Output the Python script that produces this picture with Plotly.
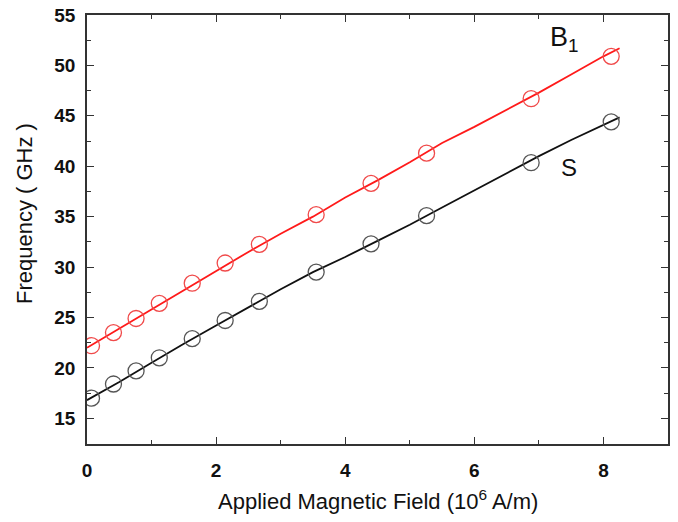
import plotly.graph_objects as go

# Measured points (open circles)
field_pts = [0.07, 0.41, 0.76, 1.12, 1.63, 2.14, 2.67, 3.55, 4.40, 5.26, 6.88, 8.12]
b1_pts = [22.2, 23.5, 24.9, 26.4, 28.4, 30.4, 32.25, 35.2, 38.3, 41.3, 46.7, 50.9]
s_pts = [17.0, 18.4, 19.7, 21.0, 22.9, 24.7, 26.6, 29.5, 32.3, 35.1, 40.35, 44.4]

# Calculated curves (solid lines)
field_line = [0, 0.5, 1, 1.5, 2, 2.5, 3, 3.5, 4, 4.5, 5, 5.5, 6, 6.5, 7, 7.5, 8, 8.25]
b1_line = [22.0, 23.9, 25.8, 27.7, 29.6, 31.5, 33.3, 35.0, 36.9, 38.6, 40.4, 42.3, 43.9, 45.6, 47.3, 49.1, 50.9, 51.7]
s_line = [16.8, 18.6, 20.5, 22.4, 24.2, 26.0, 27.8, 29.5, 31.0, 32.6, 34.2, 35.9, 37.6, 39.3, 41.0, 42.6, 44.1, 44.85]

x_ticks = [0, 2, 4, 6, 8]
y_ticks = [15, 20, 25, 30, 35, 40, 45, 50, 55]

fig = go.Figure()
fig.add_trace(go.Scatter(x=field_line, y=b1_line, mode="lines",
                         line=dict(color="#ff1a1a", width=1.8), showlegend=False))
fig.add_trace(go.Scatter(x=field_line, y=s_line, mode="lines",
                         line=dict(color="#111111", width=1.8), showlegend=False))
fig.add_trace(go.Scatter(x=field_pts, y=b1_pts, mode="markers",
                         marker=dict(symbol="circle-open", size=16, color="#f04a4a",
                                     line=dict(width=1.3)), showlegend=False))
fig.add_trace(go.Scatter(x=field_pts, y=s_pts, mode="markers",
                         marker=dict(symbol="circle-open", size=16, color="#555555",
                                     line=dict(width=1.3)), showlegend=False))

axis_common = dict(
    showgrid=False, zeroline=False, showline=True, linecolor="#333333", linewidth=1.5,
    mirror="ticks", ticks="inside", ticklen=7, tickwidth=1.3, tickcolor="#333333",
    ticklabeloverflow="allow",
    tickfont=dict(family="Liberation Sans, Arial", size=19, color="#111111", weight="bold"),
)

fig.update_xaxes(range=[0, 9], tickvals=x_ticks,
                 minor=dict(dtick=1, ticks="inside", ticklen=4, tickwidth=1.2, tickcolor="#333333"),
                 ticklabelstandoff=8, **axis_common)
fig.update_yaxes(range=[12.45, 55], tickvals=y_ticks,
                 minor=dict(dtick=2.5, tick0=0, ticks="inside", ticklen=4, tickwidth=1.2, tickcolor="#333333"),
                 ticklabelstandoff=6, **axis_common)

title_font = dict(family="Liberation Sans, Arial", size=22, color="#111111")
fig.update_layout(
    width=678, height=522,
    margin=dict(l=87, r=10, t=15, b=78, autoexpand=False),
    plot_bgcolor="white", paper_bgcolor="white",
    annotations=[
        dict(text="Applied Magnetic Field (10<sup>6</sup> A/m)", xref="paper", yref="paper",
             x=0.5, y=-56/429, xanchor="center", yanchor="middle", showarrow=False, font=title_font),
        dict(text="Frequency ( GHz )", xref="paper", yref="paper",
             x=-62/581, y=(444-214)/429, xanchor="center", yanchor="middle", textangle=-90,
             showarrow=False, font=title_font),
        dict(text="B<sub>1</sub>", x=7.4, y=52.6, xref="x", yref="y", showarrow=False,
             font=dict(family="Liberation Sans, Arial", size=27, color="#111111")),
        dict(text="S", x=7.46, y=39.9, xref="x", yref="y", showarrow=False,
             font=dict(family="Liberation Sans, Arial", size=24, color="#111111")),
    ],
)

fig.write_html("out.html", config={"displayModeBar": False},
               post_script="document.body.style.margin='0';")
